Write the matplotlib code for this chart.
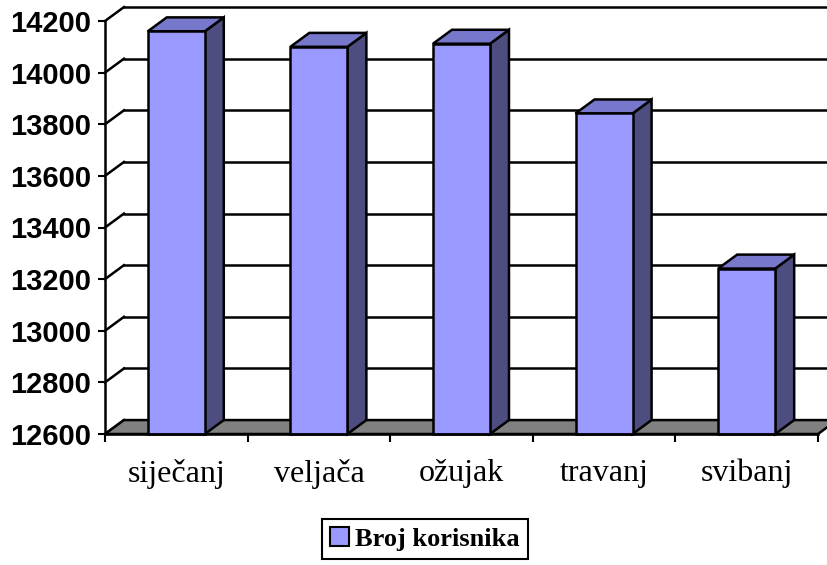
import matplotlib
matplotlib.use('Agg')
import matplotlib.pyplot as plt
from matplotlib.patches import Polygon, Patch

# data
months = ['siječanj', 'veljača', 'ožujak', 'travanj', 'svibanj']
users = [14160, 14100, 14112, 13842, 13241]
yticks = [12600, 12800, 13000, 13200, 13400, 13600, 13800, 14000, 14200]
series_name = 'Broj korisnika'

# look of the fake 3d
front_col = '#9999FF'
top_col = '#7777CC'
side_col = '#4D4D80'
floor_col = '#808080'
ddx = 0.133   # depth in category units
ddy = 54      # depth in value units
bw = 0.40
lw = 1.8

fig = plt.figure(figsize=(8.27, 5.65), dpi=100)
ax = fig.add_axes([105/827, 131/565, 713/827, 413/565])
ymin, ymax = yticks[0], yticks[-1]
n = len(months)
ax.set_xlim(0, n)
ax.set_ylim(ymin, ymax)

# back wall gridlines and left wall diagonals
for v in yticks:
    if v > ymin:
        ax.plot([ddx, n + ddx], [v + ddy, v + ddy], color='black', lw=lw,
                clip_on=False, zorder=1)
    ax.plot([0, ddx], [v, v + ddy], color='black', lw=lw, clip_on=False, zorder=1)

# floor
floor = Polygon([(0, ymin), (n, ymin), (n + ddx, ymin + ddy), (ddx, ymin + ddy)],
                closed=True, facecolor=floor_col, edgecolor='black', lw=lw,
                clip_on=False, zorder=2)
ax.add_patch(floor)

# bars
for i, v in enumerate(users):
    x0 = i + 0.5 - bw / 2
    x1 = i + 0.5 + bw / 2
    front = Polygon([(x0, ymin), (x1, ymin), (x1, v), (x0, v)], closed=True,
                    facecolor=front_col, edgecolor='black', lw=lw, clip_on=False, zorder=3)
    top = Polygon([(x0, v), (x1, v), (x1 + ddx, v + ddy), (x0 + ddx, v + ddy)], closed=True,
                  facecolor=top_col, edgecolor='black', lw=lw, clip_on=False, zorder=3)
    side = Polygon([(x1, ymin), (x1 + ddx, ymin + ddy), (x1 + ddx, v + ddy), (x1, v)],
                   closed=True, facecolor=side_col, edgecolor='black', lw=lw,
                   clip_on=False, zorder=3)
    ax.add_patch(side)
    ax.add_patch(top)
    ax.add_patch(front)

for s in ['top', 'right']:
    ax.spines[s].set_visible(False)
for s in ['left', 'bottom']:
    ax.spines[s].set_linewidth(lw)
    ax.spines[s].set_zorder(4)

ax.set_yticks(yticks)
ax.set_yticklabels([str(t) for t in yticks], fontfamily='Liberation Sans',
                   fontweight='bold', fontsize=21)
ax.tick_params(axis='y', length=5, width=1.5, pad=5)

ax.set_xticks([i + 0.5 for i in range(n)])
ax.set_xticklabels(months, fontfamily='Liberation Serif', fontsize=23)
ax.set_xticks(list(range(n + 1)), minor=True)
ax.tick_params(axis='x', which='major', length=0, pad=18)
ax.tick_params(axis='x', which='minor', length=6, width=1.5)
ax.set_facecolor('none')

leg = fig.legend(handles=[Patch(facecolor=front_col, edgecolor='black', lw=1.5)],
                 labels=[series_name], loc='center', bbox_to_anchor=(0.514, 0.046),
                 prop={'family': 'Liberation Serif', 'weight': 'bold', 'size': 19},
                 fancybox=False, framealpha=1, edgecolor='black',
                 handlelength=0.7, handleheight=0.7, handletextpad=0.25,
                 borderpad=0.3, borderaxespad=0)
leg.get_frame().set_linewidth(1.5)

fig.savefig('out.png', dpi=100)
